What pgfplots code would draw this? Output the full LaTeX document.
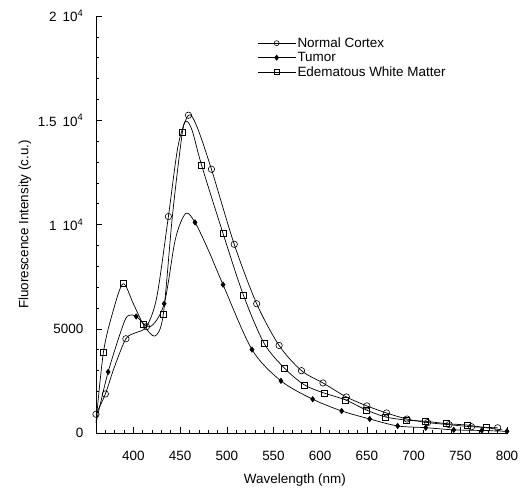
\documentclass[border=0pt]{standalone}
\usepackage{pgfplots}
\pgfplotsset{compat=1.18}
\usepackage{fontspec}
\setmainfont{Liberation Sans}
\begin{document}
\fontsize{13.5}{16}\selectfont
\begin{tikzpicture}
\path[use as bounding box] (-96bp,-63bp) rectangle (430bp,433bp);
\begin{axis}[
  at={(0,0)}, anchor=south west,
  scale only axis, width=411bp, height=417bp,
  xmin=360, xmax=800, ymin=0, ymax=20000,
  axis x line*=bottom, axis y line*=left,
  axis line style={-, line width=0.6bp},
  tick align=inside,
  major tick length=6bp, minor tick length=3bp,
  every tick/.style={black, line width=0.5bp},
  xtick={400,450,500,550,600,650,700,750,800},
  xticklabels={400,450,500,550,600,650,700,750,800},
  minor xtick={360,370,...,800},
  ytick={0,5000,10000,15000,20000},
  yticklabels={0,5000,1\hspace{0.45em}10\textsuperscript{4},1.5\hspace{0.45em}10\textsuperscript{4},2\hspace{0.45em}10\textsuperscript{4}},
  minor ytick={1000,2000,...,19000},
  scaled y ticks=false,
  xticklabel shift=13bp,
  yticklabel shift=8bp,
  ticklabel style={font=\fontsize{13.5}{16}\selectfont},
  xlabel={Wavelength (nm)},
  ylabel={Fluorescence Intensity (c.u.)},
  xlabel style={at={(axis description cs:0.484,-0.113)}, anchor=center, font=\fontsize{13.5}{16}\selectfont},
  ylabel style={at={(axis description cs:-0.173,0.5)}, anchor=center, font=\fontsize{13.5}{16}\selectfont},
  legend style={draw=none, fill=none, at={(rel axis cs:0.392,0.953)}, anchor=north west,
    inner sep=0pt, nodes={inner sep=1.5bp, font=\fontsize{13.5}{16}\selectfont}, row sep=0pt},
  legend cell align=left,
  legend image code/.code={\draw[#1, mark indices={2}, mark size=2.5bp] plot coordinates {(0bp,0bp) (19bp,0bp) (38bp,0bp)};},
  every axis plot/.append style={black, line width=0.7bp},
]
% Normal Cortex
\addplot[smooth, mark=o, mark size=3.2bp, mark options={solid, fill=white, line width=0.6bp},
  mark indices={1,2,4,6,8,10,12,13,14,15,16,17,18,19,20,21,22,23,24,25}] coordinates {
(360,900) (370,1870) (380,3200) (392,4520) (402,4800) (414,5100) (425,6500) (437.5,10380)
(448,13800) (459,15240) (468,14700) (483.6,12650) (508,9050) (532,6200) (556,4200)
(580,2990) (603,2400) (628,1730) (650,1300) (671,960) (693,670) (715,500) (738,400)
(762,300) (790,250)
};
\addlegendentry{Normal Cortex}
% Tumor
\addplot[smooth, mark=diamond*, mark size=2.6bp, mark options={solid},
  mark indices={2,5,7,10,12,13,14,15,16,17,18,19,20,21,22}] coordinates {
(360,480) (373,2930) (390,5300) (396,5650) (403,5590) (418,5100) (433,6200) (445,9300)
(456,10530) (466,10100) (480,8800) (496,7115) (527,4000) (558,2500) (592,1620)
(623,1058) (653,673) (683,337) (713,255) (743,150) (773,120) (800,80)
};
\addlegendentry{Tumor}
% Edematous White Matter
\addplot[smooth, mark=square, mark size=3bp, mark options={solid, fill=white, line width=0.6bp},
  mark indices={2,4,6,8,10,13,14,15,16,17,18,19,20,21,22,23,24,25,26,27}] coordinates {
(360,500) (368,3890) (378,5800) (389,7160) (400,6200) (411,5190) (423,4650) (432,5670)
(442,10500) (452.5,14425) (457,14950) (463,14500) (473,12850) (496,9570) (518,6590)
(540,4300) (562,3100) (583,2310) (604,1920) (627,1590) (649,1110) (670,770) (692,620)
(713,560) (735,450) (757,380) (778,250) (795,150)
};
\addlegendentry{Edematous White Matter}
\end{axis}
\end{tikzpicture}
\end{document}
